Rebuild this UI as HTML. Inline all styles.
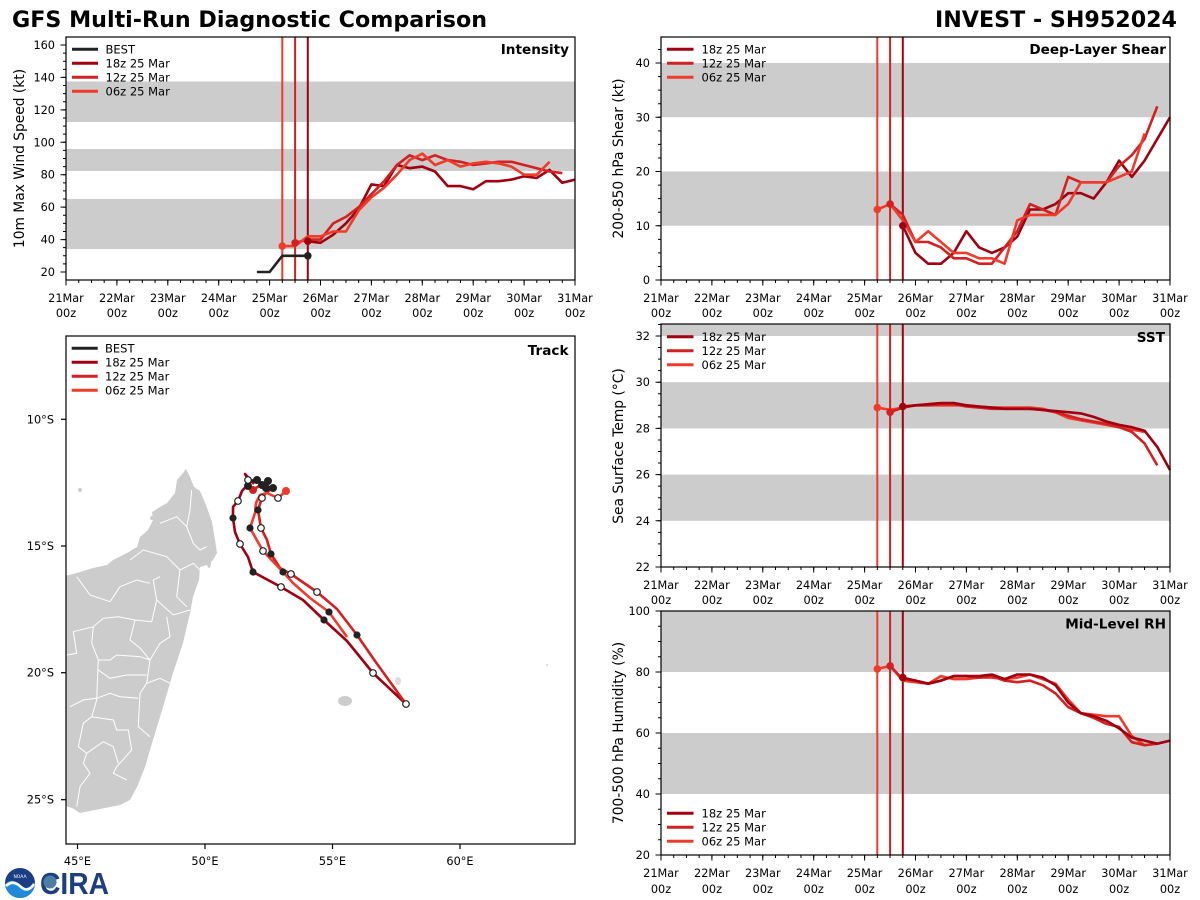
<!DOCTYPE html>
<html><head><meta charset="utf-8"><style>html,body{margin:0;padding:0;background:#fff}svg{display:block}</style></head>
<body>
<svg width="1200" height="900" viewBox="0 0 1200 900" xmlns="http://www.w3.org/2000/svg" font-family="DejaVu Sans, Liberation Sans, sans-serif">
<rect width="1200" height="900" fill="#fff"/>
<!-- Titles -->
<text x="12" y="27" font-size="22" font-weight="bold" textLength="475" lengthAdjust="spacingAndGlyphs">GFS Multi-Run Diagnostic Comparison</text>
<text x="935" y="27" font-size="22" font-weight="bold" textLength="242" lengthAdjust="spacingAndGlyphs">INVEST - SH952024</text>

<!-- ================= INTENSITY ================= -->
<g>
<rect x="66" y="81.5" width="509" height="40.5" fill="#ccc"/>
<rect x="66" y="149" width="509" height="22" fill="#ccc"/>
<rect x="66" y="199" width="509" height="50" fill="#ccc"/>
<g fill="none" stroke-width="2">
<line x1="282.3" y1="37" x2="282.3" y2="280" stroke="#f03a2a"/>
<line x1="295.1" y1="37" x2="295.1" y2="280" stroke="#d42020"/>
<line x1="307.8" y1="37" x2="307.8" y2="280" stroke="#a00010"/>
</g>
<g fill="none" stroke-width="2.6" stroke-linejoin="round">
<polyline stroke="#222" points="256.9,272 269.6,272 282.3,255.8 295.1,255.8 307.8,255.8"/>
<polyline stroke="#a00010" points="307.8,241.2 320.5,242.8 333.2,234.7 345.95,223.4 358.7,208.8 371.4,184.4 384.1,186.1 396.9,165.0 409.6,168.2 422.3,166.6 435.0,171.5 447.75,186.1 460.5,186.1 473.2,189.3 485.9,181.2 498.65,181.2 511.4,179.6 524.1,176.3 536.8,177.9 549.55,169.9 562.3,182.8 575,179.6"/>
<polyline stroke="#d42020" points="295.1,242.8 307.8,239.6 320.5,239.6 333.2,223.4 345.95,216.9 358.7,207.1 371.4,194.2 384.1,181.2 396.9,165.0 409.6,155.3 422.3,160.1 435.0,155.3 447.75,160.1 460.5,161.8 473.2,165.0 485.9,163.4 498.65,161.8 511.4,161.8 524.1,165.0 536.8,168.2 549.55,171.5 562.3,173.1"/>
<polyline stroke="#f03a2a" points="282.3,246.1 295.1,246.1 307.8,236.3 320.5,236.3 333.2,231.5 345.95,231.5 358.7,210.4 371.4,197.4 384.1,187.7 396.9,174.7 409.6,160.1 422.3,153.6 435.0,165.0 447.75,160.1 460.5,166.6 473.2,163.4 485.9,161.8 498.65,163.4 511.4,166.6 524.1,174.7 536.8,174.7 549.55,161.8"/>
</g>
<circle cx="307.8" cy="255.8" r="3.8" fill="#222"/>
<circle cx="307.8" cy="241.2" r="3.8" fill="#a00010"/>
<circle cx="295.1" cy="242.8" r="3.8" fill="#d42020"/>
<circle cx="282.3" cy="246.1" r="3.8" fill="#f03a2a"/>
<rect x="66" y="37" width="509" height="243" fill="none" stroke="#000" stroke-width="1.2"/>
<!-- ticks -->
<g stroke="#000" fill="none">
<line x1="65.5" y1="281.5" x2="576" y2="281.5" stroke-width="3" stroke-dasharray="1 11.725"/>
<line x1="65.5" y1="282.75" x2="576" y2="282.75" stroke-width="5.5" stroke-dasharray="1 49.9"/>
<line x1="64.5" y1="272.5" x2="64.5" y2="44" stroke-width="3" stroke-dasharray="1 7.107"/>
<line x1="63.25" y1="272.5" x2="63.25" y2="44" stroke-width="5.5" stroke-dasharray="1 31.428"/>
</g>
<g font-size="11.3" text-anchor="end">
<text x="55" y="276">20</text><text x="55" y="243.6">40</text><text x="55" y="211.1">60</text><text x="55" y="178.7">80</text><text x="55" y="146.3">100</text><text x="55" y="113.9">120</text><text x="55" y="81.4">140</text><text x="55" y="49">160</text>
</g>
<g font-size="11.3" text-anchor="middle">
<text x="66" y="302">21Mar</text><text x="116.9" y="302">22Mar</text><text x="167.8" y="302">23Mar</text><text x="218.7" y="302">24Mar</text><text x="269.6" y="302">25Mar</text><text x="320.5" y="302">26Mar</text><text x="371.4" y="302">27Mar</text><text x="422.3" y="302">28Mar</text><text x="473.2" y="302">29Mar</text><text x="524.1" y="302">30Mar</text><text x="575" y="302">31Mar</text>
<text x="66" y="317">00z</text><text x="116.9" y="317">00z</text><text x="167.8" y="317">00z</text><text x="218.7" y="317">00z</text><text x="269.6" y="317">00z</text><text x="320.5" y="317">00z</text><text x="371.4" y="317">00z</text><text x="422.3" y="317">00z</text><text x="473.2" y="317">00z</text><text x="524.1" y="317">00z</text><text x="575" y="317">00z</text>
</g>
<text transform="translate(24,158.5) rotate(-90)" font-size="13.8" text-anchor="middle">10m Max Wind Speed (kt)</text>
<text x="569" y="54" font-size="13.6" font-weight="bold" text-anchor="end">Intensity</text>
<g stroke-width="3">
<line x1="72" y1="49.3" x2="98" y2="49.3" stroke="#222"/>
<line x1="72" y1="63.3" x2="98" y2="63.3" stroke="#a00010"/>
<line x1="72" y1="77.3" x2="98" y2="77.3" stroke="#d42020"/>
<line x1="72" y1="91.3" x2="98" y2="91.3" stroke="#f03a2a"/>
</g>
<g font-size="11.5">
<text x="105.5" y="53.5">BEST</text><text x="105.5" y="67.5">18z 25 Mar</text><text x="105.5" y="81.5">12z 25 Mar</text><text x="105.5" y="95.5">06z 25 Mar</text>
</g>
</g>

<!-- ================= SHEAR ================= -->
<g>
<rect x="661" y="63" width="509" height="54.25" fill="#ccc"/>
<rect x="661" y="171.5" width="509" height="54.25" fill="#ccc"/>
<g fill="none" stroke-width="2">
<line x1="877.3" y1="37" x2="877.3" y2="280" stroke="#f03a2a"/>
<line x1="890.1" y1="37" x2="890.1" y2="280" stroke="#d42020"/>
<line x1="902.8" y1="37" x2="902.8" y2="280" stroke="#a00010"/>
</g>
<g fill="none" stroke-width="2.6" stroke-linejoin="round">
<polyline stroke="#a00010" points="902.8,225.75 915.5,252.9 928.2,263.7 940.95,263.7 953.7,252.9 966.4,231.2 979.1,247.45 991.9,252.9 1004.6,247.45 1017.3,236.6 1030,209.5 1042.75,209.5 1055.5,204.05 1068.2,193.2 1080.9,193.2 1093.65,198.6 1106.4,182.35 1119.1,160.65 1131.8,176.9 1144.55,160.65 1157.3,138.95 1170,117.25"/>
<polyline stroke="#d42020" points="890.1,204.05 902.8,214.9 915.5,242.0 928.2,242.0 940.95,247.45 953.7,258.3 966.4,258.3 979.1,263.7 991.9,263.7 1004.6,247.45 1017.3,231.2 1030,204.05 1042.75,209.5 1055.5,214.9 1068.2,176.9 1080.9,182.35 1093.65,182.35 1106.4,182.35 1119.1,166.1 1131.8,155.2 1144.55,138.95 1157.3,106.4"/>
<polyline stroke="#f03a2a" points="877.3,209.5 890.1,204.05 902.8,220.3 915.5,242.0 928.2,231.2 940.95,242.0 953.7,252.9 966.4,252.9 979.1,258.3 991.9,258.3 1004.6,263.7 1017.3,220.3 1030,214.9 1042.75,214.9 1055.5,214.9 1068.2,204.05 1080.9,182.35 1093.65,182.35 1106.4,182.35 1119.1,176.9 1131.8,171.5 1144.55,133.5"/>
</g>
<circle cx="902.8" cy="225.75" r="3.8" fill="#a00010"/>
<circle cx="890.1" cy="204.05" r="3.8" fill="#d42020"/>
<circle cx="877.3" cy="209.5" r="3.8" fill="#f03a2a"/>
<rect x="661" y="37" width="509" height="243" fill="none" stroke="#000" stroke-width="1.2"/>
<g stroke="#000" fill="none">
<line x1="660.5" y1="281.5" x2="1171" y2="281.5" stroke-width="3" stroke-dasharray="1 11.725"/>
<line x1="660.5" y1="282.75" x2="1171" y2="282.75" stroke-width="5.5" stroke-dasharray="1 49.9"/>
<line x1="659.5" y1="280.5" x2="659.5" y2="40" stroke-width="3" stroke-dasharray="1 12.5625"/>
<line x1="658.25" y1="280.5" x2="658.25" y2="40" stroke-width="5.5" stroke-dasharray="1 53.25"/>
</g>
<g font-size="11.3" text-anchor="end">
<text x="650" y="284">0</text><text x="650" y="229.75">10</text><text x="650" y="175.5">20</text><text x="650" y="121.25">30</text><text x="650" y="67">40</text>
</g>
<g font-size="11.3" text-anchor="middle">
<text x="661" y="302">21Mar</text><text x="711.9" y="302">22Mar</text><text x="762.8" y="302">23Mar</text><text x="813.7" y="302">24Mar</text><text x="864.6" y="302">25Mar</text><text x="915.5" y="302">26Mar</text><text x="966.4" y="302">27Mar</text><text x="1017.3" y="302">28Mar</text><text x="1068.2" y="302">29Mar</text><text x="1119.1" y="302">30Mar</text><text x="1170" y="302">31Mar</text>
<text x="661" y="317">00z</text><text x="711.9" y="317">00z</text><text x="762.8" y="317">00z</text><text x="813.7" y="317">00z</text><text x="864.6" y="317">00z</text><text x="915.5" y="317">00z</text><text x="966.4" y="317">00z</text><text x="1017.3" y="317">00z</text><text x="1068.2" y="317">00z</text><text x="1119.1" y="317">00z</text><text x="1170" y="317">00z</text>
</g>
<text transform="translate(623,158.5) rotate(-90)" font-size="13.8" text-anchor="middle">200-850 hPa Shear (kt)</text>
<text x="1166" y="54" font-size="13.6" font-weight="bold" text-anchor="end">Deep-Layer Shear</text>
<g stroke-width="3">
<line x1="667" y1="49.3" x2="693.5" y2="49.3" stroke="#a00010"/>
<line x1="667" y1="63.3" x2="693.5" y2="63.3" stroke="#d42020"/>
<line x1="667" y1="77.3" x2="693.5" y2="77.3" stroke="#f03a2a"/>
</g>
<g font-size="11.5">
<text x="701.5" y="53.5">18z 25 Mar</text><text x="701.5" y="67.5">12z 25 Mar</text><text x="701.5" y="81.5">06z 25 Mar</text>
</g>
</g>

<!-- ================= SST ================= -->
<g>
<rect x="661" y="324" width="509" height="12" fill="#ccc"/>
<rect x="661" y="382.2" width="509" height="46.2" fill="#ccc"/>
<rect x="661" y="474.6" width="509" height="46.2" fill="#ccc"/>
<g fill="none" stroke-width="2">
<line x1="877.3" y1="324" x2="877.3" y2="567" stroke="#f03a2a"/>
<line x1="890.1" y1="324" x2="890.1" y2="567" stroke="#d42020"/>
<line x1="902.8" y1="324" x2="902.8" y2="567" stroke="#a00010"/>
</g>
<g fill="none" stroke-width="2.6" stroke-linejoin="round">
<polyline stroke="#f03a2a" points="877.3,407.6 890.1,409.9 902.8,407.6 915.5,405.3 928.2,405.3 940.95,405.3 953.7,405.3 966.4,405.3 979.1,406.5 991.9,407.6 1004.6,407.6 1017.3,407.6 1030,407.6 1042.75,408.8 1055.5,412.2 1068.2,418.0 1080.9,420.3 1093.65,422.6 1106.4,424.9 1119.1,427.2 1131.8,429.6 1144.55,431.9"/>
<polyline stroke="#d42020" points="890.1,412.2 902.8,407.6 915.5,405.3 928.2,405.3 940.95,404.2 953.7,404.2 966.4,406.5 979.1,407.6 991.9,408.8 1004.6,408.8 1017.3,408.8 1030,408.8 1042.75,409.9 1055.5,412.2 1068.2,415.7 1080.9,419.2 1093.65,421.5 1106.4,423.8 1119.1,427.2 1131.8,431.9 1144.55,443.4 1157.3,465.4"/>
<polyline stroke="#a00010" points="902.8,406.5 915.5,405.3 928.2,404.2 940.95,403.0 953.7,403.0 966.4,405.3 979.1,406.5 991.9,407.6 1004.6,408.8 1017.3,408.8 1030,408.8 1042.75,409.9 1055.5,411.1 1068.2,412.2 1080.9,413.4 1093.65,416.9 1106.4,421.5 1119.1,424.9 1131.8,427.2 1144.55,430.7 1157.3,446.9 1170,470.0"/>
</g>
<circle cx="877.3" cy="407.6" r="3.8" fill="#f03a2a"/>
<circle cx="890.1" cy="412.2" r="3.8" fill="#d42020"/>
<circle cx="902.8" cy="406.5" r="3.8" fill="#a00010"/>
<rect x="661" y="324" width="509" height="243" fill="none" stroke="#000" stroke-width="1.2"/>
<g stroke="#000" fill="none">
<line x1="660.5" y1="568.5" x2="1171" y2="568.5" stroke-width="3" stroke-dasharray="1 11.725"/>
<line x1="660.5" y1="569.75" x2="1171" y2="569.75" stroke-width="5.5" stroke-dasharray="1 49.9"/>
<line x1="659.5" y1="567.5" x2="659.5" y2="324" stroke-width="3" stroke-dasharray="1 10.55"/>
<line x1="658.25" y1="567.5" x2="658.25" y2="324" stroke-width="5.5" stroke-dasharray="1 45.2"/>
</g>
<g font-size="11.3" text-anchor="end">
<text x="650" y="571">22</text><text x="650" y="524.8">24</text><text x="650" y="478.6">26</text><text x="650" y="432.4">28</text><text x="650" y="386.2">30</text><text x="650" y="340">32</text>
</g>
<g font-size="11.3" text-anchor="middle">
<text x="661" y="589">21Mar</text><text x="711.9" y="589">22Mar</text><text x="762.8" y="589">23Mar</text><text x="813.7" y="589">24Mar</text><text x="864.6" y="589">25Mar</text><text x="915.5" y="589">26Mar</text><text x="966.4" y="589">27Mar</text><text x="1017.3" y="589">28Mar</text><text x="1068.2" y="589">29Mar</text><text x="1119.1" y="589">30Mar</text><text x="1170" y="589">31Mar</text>
<text x="661" y="604">00z</text><text x="711.9" y="604">00z</text><text x="762.8" y="604">00z</text><text x="813.7" y="604">00z</text><text x="864.6" y="604">00z</text><text x="915.5" y="604">00z</text><text x="966.4" y="604">00z</text><text x="1017.3" y="604">00z</text><text x="1068.2" y="604">00z</text><text x="1119.1" y="604">00z</text><text x="1170" y="604">00z</text>
</g>
<text transform="translate(623,446) rotate(-90)" font-size="13.8" text-anchor="middle">Sea Surface Temp (°C)</text>
<text x="1165" y="342" font-size="13.6" font-weight="bold" text-anchor="end">SST</text>
<g stroke-width="3">
<line x1="667" y1="336.7" x2="693.5" y2="336.7" stroke="#a00010"/>
<line x1="667" y1="350.7" x2="693.5" y2="350.7" stroke="#d42020"/>
<line x1="667" y1="364.7" x2="693.5" y2="364.7" stroke="#f03a2a"/>
</g>
<g font-size="11.5">
<text x="701.5" y="340.9">18z 25 Mar</text><text x="701.5" y="354.9">12z 25 Mar</text><text x="701.5" y="368.9">06z 25 Mar</text>
</g>
</g>

<!-- ================= RH ================= -->
<g>
<rect x="661" y="611" width="509" height="61" fill="#ccc"/>
<rect x="661" y="733" width="509" height="61" fill="#ccc"/>
<g fill="none" stroke-width="2">
<line x1="877.3" y1="611" x2="877.3" y2="855" stroke="#f03a2a"/>
<line x1="890.1" y1="611" x2="890.1" y2="855" stroke="#d42020"/>
<line x1="902.8" y1="611" x2="902.8" y2="855" stroke="#a00010"/>
</g>
<g fill="none" stroke-width="2.6" stroke-linejoin="round">
<polyline stroke="#f03a2a" points="877.3,669.0 890.1,665.9 902.8,680.6 915.5,682.2 928.2,683.7 940.95,676.1 953.7,679.1 966.4,679.1 979.1,677.6 991.9,677.6 1004.6,679.1 1017.3,677.6 1030,674.5 1042.75,679.1 1055.5,683.7 1068.2,699.5 1080.9,713.2 1093.65,714.7 1106.4,716.2 1119.1,716.2 1131.8,736.1 1144.55,745.2"/>
<polyline stroke="#d42020" points="890.1,665.9 902.8,679.1 915.5,680.6 928.2,683.7 940.95,680.6 953.7,676.1 966.4,676.1 979.1,677.6 991.9,676.1 1004.6,680.6 1017.3,682.2 1030,680.6 1042.75,685.2 1055.5,693.4 1068.2,707.1 1080.9,713.2 1093.65,717.8 1106.4,723.9 1119.1,726.9 1131.8,742.2 1144.55,745.2 1157.3,743.7"/>
<polyline stroke="#a00010" points="902.8,677.6 915.5,680.6 928.2,683.7 940.95,680.6 953.7,676.1 966.4,676.1 979.1,676.1 991.9,674.5 1004.6,679.1 1017.3,674.5 1030,674.5 1042.75,677.6 1055.5,685.2 1068.2,702.5 1080.9,713.2 1093.65,716.2 1106.4,720.8 1119.1,728.4 1131.8,737.6 1144.55,740.6 1157.3,743.7 1170,740.6"/>
</g>
<circle cx="877.3" cy="669.0" r="3.8" fill="#f03a2a"/>
<circle cx="890.1" cy="665.9" r="3.8" fill="#d42020"/>
<circle cx="902.8" cy="677.6" r="3.8" fill="#a00010"/>
<rect x="661" y="611" width="509" height="244" fill="none" stroke="#000" stroke-width="1.2"/>
<g stroke="#000" fill="none">
<line x1="660.5" y1="856.5" x2="1171" y2="856.5" stroke-width="3" stroke-dasharray="1 11.725"/>
<line x1="660.5" y1="857.75" x2="1171" y2="857.75" stroke-width="5.5" stroke-dasharray="1 49.9"/>
<line x1="659.5" y1="855.5" x2="659.5" y2="610" stroke-width="3" stroke-dasharray="1 14.25"/>
<line x1="658.25" y1="855.5" x2="658.25" y2="610" stroke-width="5.5" stroke-dasharray="1 60"/>
</g>
<g font-size="11.3" text-anchor="end">
<text x="650" y="859">20</text><text x="650" y="798">40</text><text x="650" y="737">60</text><text x="650" y="676">80</text><text x="650" y="615">100</text>
</g>
<g font-size="11.3" text-anchor="middle">
<text x="661" y="877">21Mar</text><text x="711.9" y="877">22Mar</text><text x="762.8" y="877">23Mar</text><text x="813.7" y="877">24Mar</text><text x="864.6" y="877">25Mar</text><text x="915.5" y="877">26Mar</text><text x="966.4" y="877">27Mar</text><text x="1017.3" y="877">28Mar</text><text x="1068.2" y="877">29Mar</text><text x="1119.1" y="877">30Mar</text><text x="1170" y="877">31Mar</text>
<text x="661" y="893">00z</text><text x="711.9" y="893">00z</text><text x="762.8" y="893">00z</text><text x="813.7" y="893">00z</text><text x="864.6" y="893">00z</text><text x="915.5" y="893">00z</text><text x="966.4" y="893">00z</text><text x="1017.3" y="893">00z</text><text x="1068.2" y="893">00z</text><text x="1119.1" y="893">00z</text><text x="1170" y="893">00z</text>
</g>
<text transform="translate(623,733) rotate(-90)" font-size="13.8" text-anchor="middle">700-500 hPa Humidity (%)</text>
<text x="1166" y="628.5" font-size="13.6" font-weight="bold" text-anchor="end">Mid-Level RH</text>
<g stroke-width="3">
<line x1="667" y1="813.3" x2="693.5" y2="813.3" stroke="#a00010"/>
<line x1="667" y1="827.3" x2="693.5" y2="827.3" stroke="#d42020"/>
<line x1="667" y1="841.3" x2="693.5" y2="841.3" stroke="#f03a2a"/>
</g>
<g font-size="11.5">
<text x="701.5" y="817.5">18z 25 Mar</text><text x="701.5" y="831.5">12z 25 Mar</text><text x="701.5" y="845.5">06z 25 Mar</text>
</g>
</g>

<!-- ================= TRACK ================= -->
<g>
<clipPath id="tc"><rect x="66" y="336" width="509" height="508"/></clipPath>
<g clip-path="url(#tc)">
<path fill="#ccc" d="M186,469 L190,477 L194,487 L200,491 L206,505 L212,522 L215,540 L217,553 L213,560 L207,565 L200,567 L199,580 L193,597 L190,613 L183,643 L173,673 L163,707 L153,740 L145,767 L137,787 L130,800 L120,805 L110,807 L90,811 L80,813 L72,808 L62,805 L62,577 L80,572 L93,568 L107,565 L113,560 L127,553 L137,547 L140,537 L148,530 L153,520 L152,512 L160,507 L167,503 L175,493 L177,480 L183,473 Z"/>
<ellipse cx="209" cy="563" rx="2" ry="5" fill="#ccc"/>
<ellipse cx="345" cy="701" rx="7" ry="5" fill="#ccc"/>
<ellipse cx="398" cy="681" rx="3" ry="4" fill="#ddd"/>
<circle cx="80" cy="490" r="2" fill="#ccc"/>
<circle cx="152" cy="518" r="2" fill="#ccc"/>
<circle cx="547" cy="665" r="1.2" fill="#ddd"/>
<g fill="none" stroke="#fff" stroke-width="1">
<polyline points="66.7,655 76.7,653.3 73.3,631.7 93.3,626.7 103.3,618.3 118.3,616.7 135,620 151.7,621.7"/>
<polyline points="76.7,576.7 90,595 110,601.7 120,586.7 136.7,580 150,583.3"/>
<polyline points="135,620 130,640 140,648 150,660 146.7,683.3 140,693.3 138.3,726.7 150,736.7"/>
<polyline points="93.3,626.7 91.7,643.3 98.3,660 96.7,700 91.7,716.7 83.3,723.3 78.3,746.7 86.7,753.3 83.3,763.3 90,773.3 80,786.7 76.7,806.7"/>
<polyline points="98.3,660 110,660 116.7,655 140,656.7 150,660"/>
<polyline points="98.3,670 110,678.3 126.7,675 146.7,675"/>
<polyline points="70,706.7 83.3,700 96.7,698.3 110,693.3 120,696.7 138.3,698.3"/>
<polyline points="91.7,716.7 113.3,720 116.7,730 128.3,730 131.7,750 116.7,766.7 113.3,773.3 126.7,780"/>
<polyline points="86.7,753.3 103.3,741.7 113.3,746.7 118.3,763.3"/>
<polyline points="151.7,621.7 156.7,600 153.3,580 160,576.7"/>
<polyline points="156.7,600 173.3,615 190,610"/>
<polyline points="150,660 160,643.3 170,636.7 166.7,616.7"/>
<polyline points="146.7,683.3 160,678.3 170,683.3"/>
<polyline points="160,523.3 176.7,516.7 186.7,526.7 193.3,543.3 200,550 206.7,546.7"/>
<polyline points="186.7,526.7 190,510 191.7,490"/>
<polyline points="130,560 143.3,550 166.7,556.7 180,570 193.3,563.3 200,570"/>
<polyline points="180,570 176.7,596.7 186.7,606.7"/>
</g>
<!-- tracks -->
<g fill="none" stroke-width="2.6" stroke-linejoin="round">
<polyline stroke="#a00010" points="254,484 245,474 250,482 242,491 238,501 233,507 233,518 235,532 240,544 248,557 253,572 281,587 303,600 324,620 347,641 373,673 406,704"/>
<polyline stroke="#d42020" points="253,490 262,484 270,490 266,493 262,498 258,510 261,528 267,540 271,554 280,568 291,574 317,592 337,609 357,635 375,661 406,704"/>
<polyline stroke="#f03a2a" points="286,491 278,498 267,493 260,495 256,503 255,513 250,528 263,551 283,572 293,583 310,598 329,612 347,637"/>
<polyline stroke="#222" points="248,486 248,481 257,480 262,485 268,481 266,488 273,488"/>
</g>
<circle cx="253" cy="490" r="4" fill="#d42020"/>
<circle cx="286" cy="491" r="4" fill="#f03a2a"/>
<g fill="#222">
<circle cx="248" cy="486" r="4"/><circle cx="257" cy="480" r="4"/><circle cx="262" cy="485" r="4"/><circle cx="268" cy="481" r="4"/><circle cx="266" cy="488" r="4"/><circle cx="273" cy="488" r="4"/>
<circle cx="233" cy="518" r="3.6"/><circle cx="253" cy="572" r="3.6"/><circle cx="324" cy="620" r="3.6"/>
<circle cx="258" cy="510" r="3.6"/><circle cx="271" cy="554" r="3.6"/><circle cx="357" cy="635" r="3.6"/>
<circle cx="250" cy="528" r="3.6"/><circle cx="283" cy="572" r="3.6"/><circle cx="329" cy="612" r="3.6"/>
</g>
<g fill="#fff" stroke="#222" stroke-width="1.2">
<circle cx="248" cy="480" r="3.3"/>
<circle cx="238" cy="501" r="3.3"/><circle cx="240" cy="544" r="3.3"/><circle cx="281" cy="587" r="3.3"/><circle cx="373" cy="673" r="3.3"/><circle cx="406" cy="704" r="3.3"/>
<circle cx="262" cy="498" r="3.3"/><circle cx="261" cy="528" r="3.3"/><circle cx="291" cy="574" r="3.3"/><circle cx="317" cy="592" r="3.3"/>
<circle cx="278" cy="498" r="3.3"/><circle cx="263" cy="551" r="3.3"/>
</g>
</g>
<rect x="66" y="336" width="509" height="508" fill="none" stroke="#000" stroke-width="1.2"/>
<g stroke="#000" stroke-width="1.2">
<line x1="61" y1="419.3" x2="66" y2="419.3"/><line x1="61" y1="546" x2="66" y2="546"/><line x1="61" y1="672.7" x2="66" y2="672.7"/><line x1="61" y1="799.7" x2="66" y2="799.7"/>
<line x1="77.5" y1="844" x2="77.5" y2="849"/><line x1="205" y1="844" x2="205" y2="849"/><line x1="332.5" y1="844" x2="332.5" y2="849"/><line x1="460" y1="844" x2="460" y2="849"/>
</g>
<g font-size="11.3" text-anchor="end">
<text x="54" y="423.3">10°S</text><text x="54" y="550">15°S</text><text x="54" y="676.7">20°S</text><text x="54" y="803.7">25°S</text>
</g>
<g font-size="11.3" text-anchor="middle">
<text x="77.5" y="865">45°E</text><text x="205" y="865">50°E</text><text x="332.5" y="865">55°E</text><text x="460" y="865">60°E</text>
</g>
<text x="568.5" y="355" font-size="13.6" font-weight="bold" text-anchor="end">Track</text>
<g stroke-width="3">
<line x1="71.7" y1="348.3" x2="97.7" y2="348.3" stroke="#222"/>
<line x1="71.7" y1="362.3" x2="97.7" y2="362.3" stroke="#a00010"/>
<line x1="71.7" y1="376.3" x2="97.7" y2="376.3" stroke="#d42020"/>
<line x1="71.7" y1="390.3" x2="97.7" y2="390.3" stroke="#f03a2a"/>
</g>
<g font-size="11.5">
<text x="105" y="352.5">BEST</text><text x="105" y="366.5">18z 25 Mar</text><text x="105" y="380.5">12z 25 Mar</text><text x="105" y="394.5">06z 25 Mar</text>
</g>
</g>

<!-- ================= LOGOS ================= -->
<g>
<circle cx="20" cy="883" r="15" fill="#1b3f86"/>
<path d="M5,884 Q12,877 20,885 Q27,892 35,882 A15,15 0 0 1 5,884 Z" fill="#1e8ad8"/>
<path d="M6,886 Q13,879 21,887 Q28,893 34,884" stroke="#fff" stroke-width="2.6" fill="none"/>
<text x="20" y="878" font-size="4.5" fill="#fff" text-anchor="middle">NOAA</text>
<text x="40" y="894" font-family="Liberation Sans, sans-serif" font-weight="bold" font-size="31" fill="#1e3f7f" textLength="69" lengthAdjust="spacingAndGlyphs">CIRA</text>
<circle cx="50" cy="882" r="6.5" fill="#4d7ea6"/>
</g>
</svg>
</body></html>
